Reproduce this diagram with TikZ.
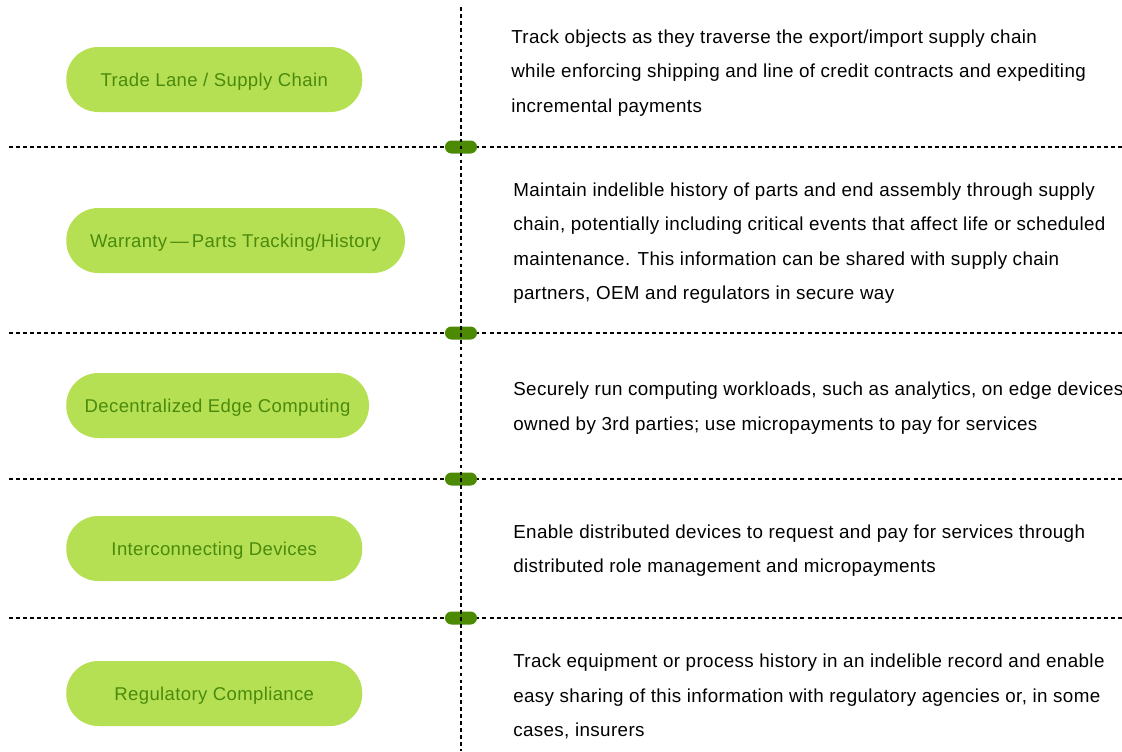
\documentclass[tikz,border=0pt]{standalone}
\usepackage{fontspec}
\setmainfont{Liberation Sans}
\newfontfamily\casefont[LetterSpace=2]{Liberation Sans}

\definecolor{pillfill}{HTML}{B6E053}
\definecolor{pilltext}{HTML}{4A8A0C}
\definecolor{markfill}{HTML}{4C8A04}

\tikzset{
  usecase/.style={draw=none, fill=pillfill, text=pilltext, rounded corners=24pt,
    minimum width=222pt, minimum height=48.75pt, anchor=west,
    text height=10pt, text depth=0pt,
    font=\casefont\fontsize{13.9}{16}\selectfont},
  detail/.style={anchor=west, align=left, inner sep=0pt,
    font=\casefont\fontsize{14.1}{25.9}\selectfont},
  knob/.style={fill=markfill, rounded corners=4.8pt, minimum width=24pt,
    minimum height=9.75pt, inner sep=0pt},
  divider/.style={line width=1pt, dash pattern=on 3pt off 2.3pt},
  spine/.style={line width=1pt, dash pattern=on 2.8pt off 2.4pt}
}

\begin{document}
\begin{tikzpicture}[x=0.75pt,y=-0.75pt]
\useasboundingbox (0,0) rectangle (1122,751);

% row dividers
\coordinate (d1w) at (9,147);   \coordinate (d1e) at (1122,147);
\coordinate (d2w) at (9,333);   \coordinate (d2e) at (1122,333);
\coordinate (d3w) at (9,479);   \coordinate (d3e) at (1122,479);
\coordinate (d4w) at (9,618);   \coordinate (d4e) at (1122,618);
\draw[divider] (d1w) -- (d1e);
\draw[divider] (d2w) -- (d2e);
\draw[divider] (d3w) -- (d3e);
\draw[divider] (d4w) -- (d4e);

\node[knob] (k1) at (461,147) {};
\node[knob] (k2) at (461,333) {};
\node[knob] (k3) at (461,479) {};
\node[knob] (k4) at (461,618) {};

% centre line, on top of the knobs
\coordinate (top) at (461,7);
\coordinate (bottom) at (461,751);
\draw[spine] (top) -- (bottom);

% use cases
\node[usecase] (trade) at (66,79.5) {Trade Lane / Supply Chain};
\node[usecase, minimum width=254pt] (warranty) at (66,240.5) {Warranty\,—\,Parts Tracking/History};
\node[usecase, minimum width=227pt] (edge) at (66,405.5) {Decentralized Edge Computing};
\node[usecase] (devices) at (66,548.5) {Interconnecting Devices};
\node[usecase] (regulatory) at (66,693.5) {Regulatory Compliance};

% descriptions
\node[detail] (tradetxt) at (511,73) {Track objects as they traverse the export/import supply chain\\
  while enforcing shipping and line of credit contracts and expediting\\
  incremental payments};
\node[detail] (warrantytxt) at (513,243) {Maintain indelible history of parts and end assembly through supply\\
  chain, potentially including critical events that affect life or scheduled\\
  maintenance. This information can be shared with supply chain\\
  partners, OEM and regulators in secure way};
\node[detail] (edgetxt) at (513,408) {Securely run computing workloads, such as analytics, on edge devices\\
  owned by 3rd parties; use micropayments to pay for services};
\node[detail] (devicestxt) at (513,550.5) {Enable distributed devices to request and pay for services through\\
  distributed role management and micropayments};
\node[detail] (regulatorytxt) at (513,696.5) {Track equipment or process history in an indelible record and enable\\
  easy sharing of this information with regulatory agencies or, in some\\
  cases, insurers};
\end{tikzpicture}
\end{document}
